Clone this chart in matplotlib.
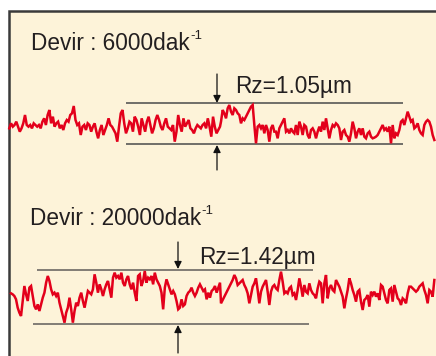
import numpy as np
import matplotlib
matplotlib.use("Agg")
import matplotlib.pyplot as plt
from matplotlib.patches import Rectangle

# ---- data (profile readings, 3x-zoom units) ----
speed_labels = ["Devir : 6000dak", "Devir : 20000dak"]
speed_sup = ["-1", "-1"]
rz_labels = ["Rz=1.05\u00b5m", "Rz=1.42\u00b5m"]

# profile 1 (6000 rpm)
p1_a = [385, 370, 380, 375, 365, 380, 395, 385, 370, 345, 375, 380, 375, 385, 370, 375,
        380, 375, 385, 365, 355, 375, 345, 330, 370, 350, 380, 370, 365, 385, 375, 390,
        370, 360, 365, 345, 340, 318, 360, 375, 370, 405, 380, 375, 390, 370, 375, 395,
        380, 370, 395, 415, 390, 375, 405, 390, 375, 355, 375, 380, 390, 400, 425, 380,
        340, 330, 370, 400, 385, 365, 370, 395, 350, 360, 380, 405, 355, 375, 395, 365,
        350, 375, 400, 385, 360, 345, 360, 380, 390, 370, 355, 380, 385, 390, 375, 425,
        395, 345, 375, 395, 355, 380, 370, 360, 385, 390, 400, 385, 375, 380, 385, 375,
        370, 385, 355, 380, 410, 350, 380, 400, 390, 380]
p1_b = [80, 45, 55, 70, 40, 30, 50, 60, 40, 45, 55, 60, 85, 70, 75, 65, 55, 45, 35, 30,
        90, 145, 95, 90, 100, 90, 115, 90, 105, 140, 100, 90, 110, 110, 130, 100, 90, 80,
        70, 110, 105, 115, 100, 110, 115, 90, 120, 80, 95, 120, 90, 95, 120, 130, 105, 100,
        110, 130, 110, 95, 110, 80, 105]
p1_c = [70, 100, 130, 105, 90, 95, 85, 90, 100, 135, 110, 105, 120, 125, 140, 115, 80, 100,
        130, 110, 100, 120, 100, 125, 130, 115, 110, 125, 130, 128, 125, 120, 110, 100, 90,
        105, 100, 110, 95, 145, 90, 130, 115, 120, 105, 80, 75, 90, 70, 50, 65, 80, 75, 100,
        95, 85, 105, 115, 120, 90, 80, 75, 80, 95, 120, 135]

# profile 2 (20000 rpm)
p2_a = [352, 355, 360, 370, 395, 410, 420, 375, 330, 355, 375, 335, 330, 360, 390, 400,
        385, 405, 385, 365, 350, 320, 300, 315, 340, 355, 350, 360, 350, 380, 400, 420,
        440, 410, 395, 365, 400, 440, 405, 380, 390, 365, 350, 375, 395, 370, 345, 350,
        355, 340, 295, 320, 350, 325, 340, 360, 340, 325, 315, 340, 365, 305, 290, 305,
        300, 310, 290, 320, 330, 310, 300, 325, 340, 320, 350, 375, 300, 295, 330, 315,
        285, 320, 305, 310, 300, 325, 290, 310, 320, 330, 350, 400, 335, 310, 325, 340,
        355, 345, 355, 375, 400, 395, 370, 390, 385, 360, 350, 345, 335, 350, 360, 350,
        335, 325, 335, 345, 340, 370, 350, 365, 345, 340, 330, 350, 335, 320]
p2_b = [130, 120, 110, 100, 90, 80, 70, 60, 45, 55, 75, 70, 65, 60, 75, 85, 100, 130, 105,
        80, 70, 55, 90, 130, 95, 80, 70, 60, 95, 135, 95, 80, 75, 85, 90, 60, 35, 65, 100,
        95, 100, 85, 80, 105, 100, 120, 90, 55, 80, 110, 75, 95, 100, 70, 90, 100, 105, 115,
        85, 65, 70, 130, 70]
p2_c = [45, 115, 85, 75, 90, 95, 60, 70, 80, 95, 110, 145, 115, 90, 55, 70, 90, 105, 125,
        95, 90, 125, 150, 120, 115, 105, 140, 95, 105, 95, 110, 100, 120, 75, 80, 100, 120,
        130, 90, 85, 125, 75, 95, 115, 120, 135, 115, 120, 130, 100, 80, 80, 85, 90, 95, 90,
        80, 75, 70, 90, 105, 130, 90, 95, 110, 60]

RED = "#e3001b"
CREAM = "#fdf3d9"
TXT = "#231f20"

fig = plt.figure(figsize=(4.36, 3.56), dpi=100)
fig.patch.set_facecolor("white")
ax = fig.add_axes([0, 0, 1, 1])
ax.set_xlim(0, 436)
ax.set_ylim(356, 0)
ax.axis("off")

# panel background and border
ax.add_patch(Rectangle((8.5, 10.5), 440, 360, facecolor=CREAM, edgecolor="#3a3a3a",
                       lw=1.8, zorder=0))


def seg(vals, x0, xs, xe, y0):
    v = np.asarray(vals, float)
    x = x0 + np.linspace(xs, xe, len(v)) / 3.0
    y = y0 + v / 3.0
    return x, y


# profile 1
xa, ya = seg(p1_a, 0, 28, 660, 0)
xb, yb = seg(p1_b, 216, 15, 325, 95)
xc, yc = seg(p1_c, 326, 0, 325, 95)
ax.plot(np.concatenate([xa, xb, xc]), np.concatenate([ya, yb, yc]),
        color=RED, lw=1.8, solid_joinstyle="miter", zorder=3)

# profile 2
xa, ya = seg(p2_a, 0, 33, 660, 176)
xb, yb = seg(p2_b, 216, 15, 325, 260)
xc, yc = seg(p2_c, 326, 0, 325, 260)
ax.plot(np.concatenate([xa, xb, xc]), np.concatenate([ya, yb, yc]),
        color=RED, lw=1.8, solid_joinstyle="miter", zorder=3)

# Rz reference lines
ax.hlines([103, 144], 126, 403, color="#4a4a4a", lw=1.1, zorder=2)
ax.hlines([270], 37, 313, color="#77736d", lw=1.3, zorder=2)
ax.hlines([324], 33, 309, color="#77736d", lw=1.3, zorder=2)

arrow_kw = dict(arrowstyle="-|>", color="#111111", lw=0.9, mutation_scale=11,
                shrinkA=0, shrinkB=0)
ax.annotate("", xy=(217, 103), xytext=(217, 74), arrowprops=arrow_kw)
ax.annotate("", xy=(217, 145), xytext=(217, 170), arrowprops=arrow_kw)
ax.annotate("", xy=(178, 269), xytext=(178, 242), arrowprops=arrow_kw)
ax.annotate("", xy=(178, 325), xytext=(178, 353), arrowprops=arrow_kw)

font = "Liberation Sans"
for (lx, ly), lab, sup in zip([(31, 50), (30, 225)], speed_labels, speed_sup):
    t = ax.text(lx, ly, lab, fontsize=16.3, family=font, color=TXT, va="baseline", ha="left")
    ax.annotate(sup, xy=(1, 1), xycoords=t, xytext=(0.3, 1.5), textcoords="offset points",
                fontsize=9.5, family=font, color=TXT, va="top", ha="left")

ax.text(235, 93, rz_labels[0], fontsize=16.3, family=font, color=TXT, va="baseline", ha="left")
ax.text(199, 264, rz_labels[1], fontsize=16.3, family=font, color=TXT, va="baseline", ha="left")

fig.savefig("out.png", dpi=100, facecolor="white")
